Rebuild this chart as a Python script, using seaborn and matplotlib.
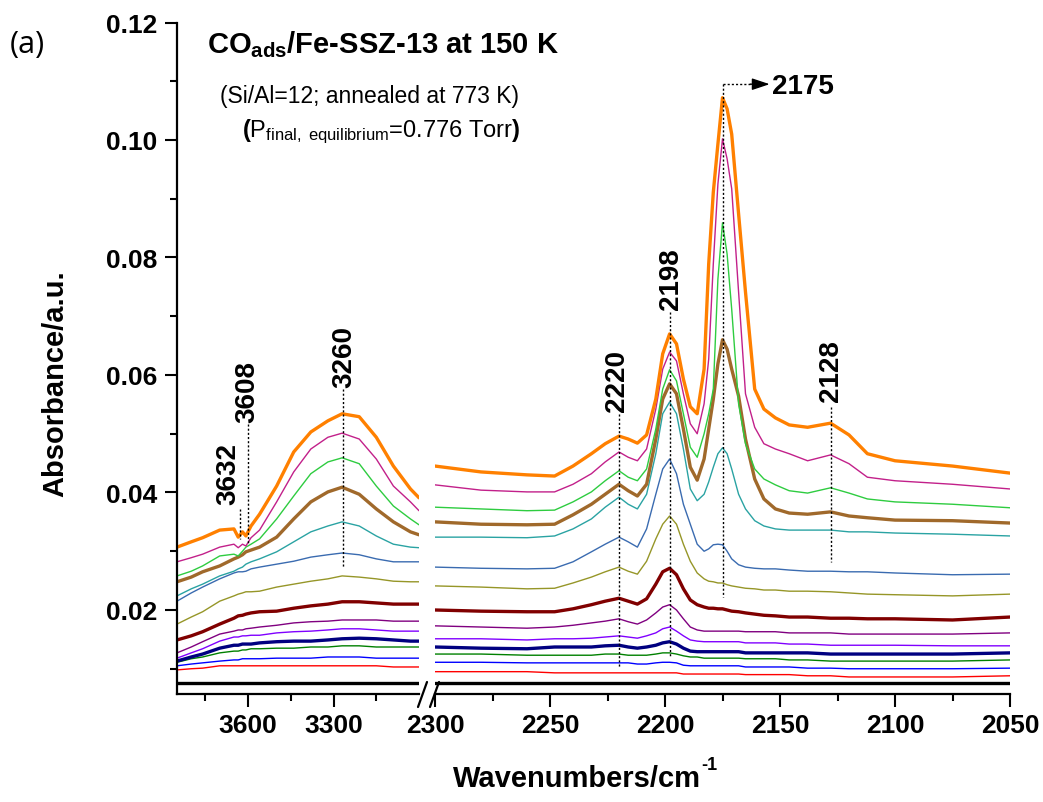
import pandas as pd
import matplotlib
matplotlib.use("Agg")
import matplotlib.pyplot as plt
from matplotlib.lines import Line2D
from matplotlib.ticker import MultipleLocator, FixedLocator, FormatStrFormatter
import seaborn as sns

# ============================================================
# Data: CO adsorption spectra on Fe-SSZ-13 at 150 K
# ============================================================
# wavenumber grids (cm-1) for the two halves of the broken axis
WN_HIGH = [3850, 3800, 3760, 3700, 3650, 3635, 3620, 3608, 3590, 3560,
           3500, 3440, 3380, 3320, 3270, 3210, 3150, 3090, 3030, 3000]
WN_LOW = [2300, 2280, 2260, 2248, 2240, 2232, 2226, 2220, 2216, 2212,
          2208, 2204, 2201, 2198, 2195, 2192, 2189, 2186, 2183, 2181,
          2179, 2177, 2175, 2173, 2171, 2168, 2165, 2161, 2157, 2152,
          2146, 2138, 2128, 2120, 2112, 2100, 2075, 2050]

# OH region (3850-3000 cm-1), one list per dose
HIGH_BLACK = [0.0076] * 20
HIGH_RED = [0.0098, 0.0100, 0.0101, 0.0105, 0.0105, 0.0105, 0.0105, 0.0105, 0.0105, 0.0105,
            0.0105, 0.0105, 0.0105, 0.0105, 0.0105, 0.0105, 0.0105, 0.0103, 0.0103, 0.0103]
HIGH_BLUE = [0.0105, 0.0108, 0.0110, 0.0113, 0.0115, 0.0115, 0.0117, 0.0117, 0.0117, 0.0117,
             0.0118, 0.0118, 0.0118, 0.0120, 0.0120, 0.0120, 0.0118, 0.0118, 0.0118, 0.0118]
HIGH_GREEN = [0.0111, 0.0117, 0.0120, 0.0127, 0.0130, 0.0130, 0.0132, 0.0132, 0.0134, 0.0134,
              0.0135, 0.0135, 0.0137, 0.0137, 0.0139, 0.0139, 0.0137, 0.0137, 0.0137, 0.0137]
HIGH_NAVY = [0.0113, 0.0120, 0.0125, 0.0135, 0.0140, 0.0140, 0.0142, 0.0142, 0.0142, 0.0144,
             0.0146, 0.0147, 0.0147, 0.0149, 0.0151, 0.0152, 0.0151, 0.0149, 0.0147, 0.0147]
HIGH_VIOLET = [0.0118, 0.0127, 0.0134, 0.0147, 0.0154, 0.0154, 0.0156, 0.0156, 0.0157, 0.0157,
               0.0161, 0.0163, 0.0164, 0.0166, 0.0168, 0.0168, 0.0166, 0.0164, 0.0164, 0.0164]
HIGH_PURPLE = [0.0127, 0.0137, 0.0146, 0.0159, 0.0164, 0.0166, 0.0166, 0.0168, 0.0169, 0.0171,
               0.0174, 0.0178, 0.0180, 0.0181, 0.0183, 0.0183, 0.0183, 0.0181, 0.0181, 0.0181]
HIGH_WINE = [0.0149, 0.0156, 0.0163, 0.0176, 0.0186, 0.0190, 0.0191, 0.0193, 0.0195, 0.0197,
             0.0198, 0.0203, 0.0207, 0.0210, 0.0214, 0.0214, 0.0212, 0.0210, 0.0210, 0.0210]
HIGH_OLIVE = [0.0176, 0.0188, 0.0197, 0.0215, 0.0224, 0.0227, 0.0229, 0.0231, 0.0231, 0.0232,
              0.0239, 0.0244, 0.0249, 0.0253, 0.0258, 0.0256, 0.0253, 0.0249, 0.0248, 0.0248]
HIGH_ROYAL = [0.0215, 0.0229, 0.0239, 0.0253, 0.0263, 0.0265, 0.0265, 0.0266, 0.0270, 0.0273,
              0.0278, 0.0283, 0.0290, 0.0294, 0.0297, 0.0294, 0.0287, 0.0282, 0.0282, 0.0282]
HIGH_CYAN = [0.0224, 0.0236, 0.0244, 0.0258, 0.0266, 0.0270, 0.0273, 0.0278, 0.0282, 0.0287,
             0.0299, 0.0316, 0.0333, 0.0343, 0.0350, 0.0343, 0.0326, 0.0312, 0.0307, 0.0306]
HIGH_BROWN = [0.0248, 0.0256, 0.0265, 0.0275, 0.0287, 0.0290, 0.0294, 0.0299, 0.0302, 0.0307,
              0.0324, 0.0355, 0.0384, 0.0401, 0.0409, 0.0397, 0.0372, 0.0350, 0.0333, 0.0328]
HIGH_LIME = [0.0258, 0.0266, 0.0275, 0.0292, 0.0295, 0.0292, 0.0300, 0.0307, 0.0312, 0.0321,
             0.0355, 0.0394, 0.0432, 0.0452, 0.0459, 0.0449, 0.0411, 0.0377, 0.0355, 0.0345]
HIGH_MAGENTA = [0.0282, 0.0289, 0.0295, 0.0307, 0.0312, 0.0306, 0.0312, 0.0309, 0.0323, 0.0336,
                0.0384, 0.0435, 0.0474, 0.0494, 0.0501, 0.0491, 0.0457, 0.0411, 0.0384, 0.0369]
HIGH_ORANGE = [0.0307, 0.0316, 0.0323, 0.0336, 0.0338, 0.0324, 0.0333, 0.0326, 0.0343, 0.0363,
               0.0411, 0.0469, 0.0503, 0.0522, 0.0534, 0.0529, 0.0494, 0.0445, 0.0406, 0.0391]

# CO stretching region (2300-2050 cm-1)
LOW_BLACK = [0.0076] * 38
LOW_RED = [0.0095, 0.0095, 0.0095, 0.0093, 0.0093, 0.0093, 0.0093, 0.0093, 0.0093, 0.0093,
           0.0093, 0.0093, 0.0093, 0.0093, 0.0093, 0.0091, 0.0091, 0.0091, 0.0091, 0.0091,
           0.0091, 0.0091, 0.0091, 0.0091, 0.0091, 0.0091, 0.0090, 0.0090, 0.0090, 0.0090,
           0.0090, 0.0088, 0.0088, 0.0086, 0.0086, 0.0086, 0.0086, 0.0088]
LOW_BLUE = [0.0111, 0.0111, 0.0110, 0.0110, 0.0110, 0.0110, 0.0110, 0.0110, 0.0110, 0.0108,
            0.0108, 0.0110, 0.0111, 0.0111, 0.0110, 0.0106, 0.0105, 0.0105, 0.0105, 0.0105,
            0.0105, 0.0105, 0.0105, 0.0105, 0.0105, 0.0105, 0.0103, 0.0103, 0.0103, 0.0103,
            0.0103, 0.0101, 0.0101, 0.0100, 0.0100, 0.0100, 0.0100, 0.0101]
LOW_GREEN = [0.0125, 0.0125, 0.0123, 0.0123, 0.0123, 0.0123, 0.0125, 0.0125, 0.0123, 0.0123,
             0.0123, 0.0125, 0.0127, 0.0127, 0.0125, 0.0122, 0.0120, 0.0120, 0.0118, 0.0118,
             0.0118, 0.0118, 0.0118, 0.0118, 0.0118, 0.0118, 0.0117, 0.0117, 0.0117, 0.0117,
             0.0115, 0.0115, 0.0113, 0.0113, 0.0113, 0.0113, 0.0113, 0.0115]
LOW_NAVY = [0.0137, 0.0135, 0.0134, 0.0137, 0.0137, 0.0137, 0.0139, 0.0140, 0.0137, 0.0135,
            0.0137, 0.0140, 0.0144, 0.0146, 0.0142, 0.0135, 0.0130, 0.0129, 0.0129, 0.0129,
            0.0129, 0.0129, 0.0129, 0.0129, 0.0129, 0.0129, 0.0127, 0.0127, 0.0127, 0.0127,
            0.0127, 0.0127, 0.0125, 0.0125, 0.0125, 0.0125, 0.0125, 0.0127]
LOW_VIOLET = [0.0151, 0.0151, 0.0149, 0.0151, 0.0151, 0.0152, 0.0154, 0.0156, 0.0154, 0.0152,
              0.0156, 0.0161, 0.0168, 0.0171, 0.0164, 0.0156, 0.0149, 0.0147, 0.0146, 0.0146,
              0.0146, 0.0146, 0.0146, 0.0146, 0.0146, 0.0146, 0.0144, 0.0144, 0.0144, 0.0144,
              0.0142, 0.0142, 0.0140, 0.0140, 0.0140, 0.0140, 0.0139, 0.0139]
LOW_PURPLE = [0.0173, 0.0171, 0.0169, 0.0171, 0.0174, 0.0178, 0.0181, 0.0185, 0.0180, 0.0176,
              0.0183, 0.0195, 0.0205, 0.0209, 0.0200, 0.0185, 0.0171, 0.0166, 0.0164, 0.0164,
              0.0164, 0.0164, 0.0164, 0.0164, 0.0164, 0.0164, 0.0163, 0.0163, 0.0163, 0.0163,
              0.0161, 0.0161, 0.0161, 0.0159, 0.0159, 0.0159, 0.0159, 0.0161]
LOW_WINE = [0.0200, 0.0198, 0.0197, 0.0197, 0.0202, 0.0209, 0.0215, 0.0220, 0.0215, 0.0210,
            0.0219, 0.0244, 0.0265, 0.0271, 0.0260, 0.0236, 0.0217, 0.0209, 0.0205, 0.0203,
            0.0203, 0.0202, 0.0202, 0.0200, 0.0198, 0.0197, 0.0195, 0.0193, 0.0191, 0.0190,
            0.0188, 0.0188, 0.0186, 0.0186, 0.0185, 0.0185, 0.0183, 0.0188]
LOW_OLIVE = [0.0241, 0.0239, 0.0236, 0.0237, 0.0246, 0.0256, 0.0265, 0.0273, 0.0266, 0.0261,
             0.0283, 0.0321, 0.0346, 0.0360, 0.0346, 0.0312, 0.0283, 0.0263, 0.0253, 0.0249,
             0.0248, 0.0246, 0.0246, 0.0243, 0.0241, 0.0239, 0.0237, 0.0236, 0.0234, 0.0234,
             0.0232, 0.0232, 0.0231, 0.0229, 0.0227, 0.0226, 0.0224, 0.0227]
LOW_ROYAL = [0.0273, 0.0271, 0.0270, 0.0271, 0.0282, 0.0299, 0.0312, 0.0324, 0.0316, 0.0307,
             0.0338, 0.0397, 0.0440, 0.0457, 0.0432, 0.0380, 0.0346, 0.0312, 0.0300, 0.0304,
             0.0311, 0.0312, 0.0311, 0.0300, 0.0287, 0.0277, 0.0273, 0.0271, 0.0270, 0.0270,
             0.0268, 0.0266, 0.0266, 0.0265, 0.0265, 0.0263, 0.0260, 0.0261]
LOW_CYAN = [0.0324, 0.0324, 0.0323, 0.0326, 0.0338, 0.0355, 0.0375, 0.0392, 0.0380, 0.0372,
            0.0397, 0.0466, 0.0534, 0.0554, 0.0534, 0.0474, 0.0406, 0.0386, 0.0397, 0.0418,
            0.0443, 0.0466, 0.0476, 0.0466, 0.0440, 0.0397, 0.0372, 0.0352, 0.0343, 0.0338,
            0.0336, 0.0336, 0.0336, 0.0333, 0.0333, 0.0331, 0.0329, 0.0326]
LOW_BROWN = [0.0350, 0.0346, 0.0345, 0.0346, 0.0362, 0.0380, 0.0397, 0.0414, 0.0403, 0.0394,
             0.0414, 0.0491, 0.0559, 0.0585, 0.0568, 0.0508, 0.0443, 0.0421, 0.0457, 0.0508,
             0.0559, 0.0619, 0.0660, 0.0644, 0.0610, 0.0564, 0.0491, 0.0423, 0.0389, 0.0372,
             0.0365, 0.0363, 0.0367, 0.0360, 0.0357, 0.0353, 0.0352, 0.0348]
LOW_LIME = [0.0375, 0.0372, 0.0369, 0.0370, 0.0384, 0.0401, 0.0420, 0.0437, 0.0426, 0.0420,
            0.0440, 0.0508, 0.0576, 0.0609, 0.0590, 0.0534, 0.0477, 0.0460, 0.0500, 0.0534,
            0.0576, 0.0763, 0.0859, 0.0806, 0.0712, 0.0551, 0.0483, 0.0440, 0.0423, 0.0413,
            0.0403, 0.0399, 0.0408, 0.0399, 0.0389, 0.0384, 0.0380, 0.0374]
LOW_MAGENTA = [0.0413, 0.0404, 0.0401, 0.0401, 0.0414, 0.0432, 0.0452, 0.0469, 0.0460, 0.0454,
               0.0474, 0.0542, 0.0610, 0.0639, 0.0624, 0.0568, 0.0517, 0.0500, 0.0551, 0.0627,
               0.0789, 0.0925, 0.1002, 0.0968, 0.0917, 0.0741, 0.0568, 0.0511, 0.0483, 0.0474,
               0.0466, 0.0454, 0.0464, 0.0449, 0.0426, 0.0420, 0.0414, 0.0406]
LOW_ORANGE = [0.0445, 0.0435, 0.0430, 0.0428, 0.0445, 0.0466, 0.0483, 0.0496, 0.0491, 0.0484,
              0.0498, 0.0559, 0.0636, 0.0670, 0.0653, 0.0593, 0.0546, 0.0534, 0.0610, 0.0789,
              0.0911, 0.0993, 0.1072, 0.1053, 0.1010, 0.0874, 0.0741, 0.0576, 0.0542, 0.0527,
              0.0515, 0.0511, 0.0518, 0.0498, 0.0466, 0.0454, 0.0445, 0.0433]

SERIES = ["black", "red", "blue", "green", "navy", "violet", "purple", "wine",
          "olive", "royal", "cyan", "brown", "lime", "magenta", "orange"]
HIGH = [HIGH_BLACK, HIGH_RED, HIGH_BLUE, HIGH_GREEN, HIGH_NAVY, HIGH_VIOLET, HIGH_PURPLE,
        HIGH_WINE, HIGH_OLIVE, HIGH_ROYAL, HIGH_CYAN, HIGH_BROWN, HIGH_LIME, HIGH_MAGENTA,
        HIGH_ORANGE]
LOW = [LOW_BLACK, LOW_RED, LOW_BLUE, LOW_GREEN, LOW_NAVY, LOW_VIOLET, LOW_PURPLE,
       LOW_WINE, LOW_OLIVE, LOW_ROYAL, LOW_CYAN, LOW_BROWN, LOW_LIME, LOW_MAGENTA,
       LOW_ORANGE]

COLORS = {
    "black": "#000000", "red": "#FF0000", "blue": "#0000FF", "green": "#008000",
    "navy": "#000080", "violet": "#8000FF", "purple": "#800080", "wine": "#800000",
    "olive": "#969628", "royal": "#3A6BB0", "cyan": "#2AA3A3", "brown": "#A0692B",
    "lime": "#2ECC40", "magenta": "#C2208A", "orange": "#FF8000",
}
THICK = {"black", "navy", "wine", "brown", "orange"}

# long-form tables
df_high = pd.concat([pd.DataFrame({"wn": WN_HIGH, "absorbance": v, "series": s})
                     for s, v in zip(SERIES, HIGH)], ignore_index=True)
df_low = pd.concat([pd.DataFrame({"wn": WN_LOW, "absorbance": v, "series": s})
                    for s, v in zip(SERIES, LOW)], ignore_index=True)

# ============================================================
# Style
# ============================================================
sns.set_theme(style="ticks")
plt.rcParams["font.family"] = ["Liberation Sans", "DejaVu Sans"]
plt.rcParams["text.color"] = "black"
plt.rcParams["axes.labelcolor"] = "black"
plt.rcParams["xtick.color"] = "black"
plt.rcParams["ytick.color"] = "black"
plt.rcParams["axes.edgecolor"] = "black"
plt.rcParams["mathtext.fontset"] = "custom"
plt.rcParams["mathtext.rm"] = "Liberation Sans"
plt.rcParams["mathtext.bf"] = "Liberation Sans:bold"
plt.rcParams["mathtext.it"] = "Liberation Sans:italic"

W, H = 1043, 803
fig = plt.figure(figsize=(W / 100, H / 100), dpi=100)
bottom = (H - 695) / H
height = (695 - 23.5) / H
ax1 = fig.add_axes([177 / W, bottom, (419 - 177) / W, height])
ax2 = fig.add_axes([435 / W, bottom, (1010 - 435) / W, height])

for ax, df in ((ax1, df_high), (ax2, df_low)):
    for s in SERIES:
        sub = df[df["series"] == s]
        sns.lineplot(data=sub, x="wn", y="absorbance", ax=ax, color=COLORS[s],
                     lw=2.4 if s in THICK else 1.0, sort=False, estimator=None,
                     legend=False)
    ax.set_ylim(0.0057, 0.12)
    ax.set_xlabel("")
    ax.set_ylabel("")
    for side in ("top", "right"):
        ax.spines[side].set_visible(False)
    for side in ("left", "bottom"):
        ax.spines[side].set_linewidth(1.6)
    ax.tick_params(which="major", direction="out", length=9, width=1.5,
                   labelsize=19, colors="black", pad=5)
    ax.tick_params(which="minor", direction="out", length=5, width=1.5)

ax1.set_xlim(3850, 3000)
ax1.xaxis.set_major_locator(FixedLocator([3600, 3300]))
ax1.xaxis.set_minor_locator(FixedLocator([3750, 3450, 3150]))
ax1.yaxis.set_major_locator(MultipleLocator(0.02))
ax1.yaxis.set_minor_locator(MultipleLocator(0.01))
ax1.yaxis.set_major_formatter(FormatStrFormatter("%.2f"))

ax2.set_xlim(2300, 2050)
ax2.xaxis.set_major_locator(MultipleLocator(50))
ax2.xaxis.set_minor_locator(MultipleLocator(25))
ax2.spines["left"].set_visible(False)
ax2.tick_params(axis="y", which="both", left=False, labelleft=False)

for ax in (ax1, ax2):
    for lab in ax.get_xticklabels() + ax.get_yticklabels():
        lab.set_fontweight("bold")

# axis break marks
for x0 in (418, 430):
    fig.add_artist(Line2D([x0 / W, (x0 + 9) / W], [1 - 708 / H, 1 - 683 / H],
                          color="black", lw=1.6))

# ============================================================
# Peak annotations
# ============================================================
dot = dict(color="black", lw=1.0, ls=(0, (1.5, 1.5)))
ann = dict(rotation=90, ha="center", va="bottom", fontsize=20, fontweight="bold")

ax1.plot([3629, 3629], [0.0372, 0.0321], **dot)
ax1.text(3671, 0.0380, "3632", **ann)
ax1.plot([3601, 3601], [0.0517, 0.0312], **dot)
ax1.text(3604, 0.0520, "3608", **ann)
ax1.plot([3268, 3268], [0.0576, 0.0273], **dot)
ax1.text(3262, 0.0580, "3260", **ann)

ax2.plot([2220, 2220], [0.0534, 0.0103], **dot)
ax2.text(2221, 0.0539, "2220", **ann)
ax2.plot([2198, 2198], [0.0707, 0.0122], **dot)
ax2.text(2197.5, 0.0712, "2198", **ann)
ax2.plot([2128, 2128], [0.0546, 0.0282], **dot)
ax2.text(2128, 0.0556, "2128", **ann)

# 2175 band: dotted guide with arrow to the label
ax2.plot([2175, 2175], [0.1095, 0.0222], **dot)
ax2.plot([2175, 2163], [0.1095, 0.1095], **dot)
ax2.annotate("", xy=(2154.5, 0.1095), xytext=(2163, 0.1095),
             arrowprops=dict(arrowstyle="-|>,head_length=0.9,head_width=0.3",
                             color="black", lw=1.0, shrinkA=0, shrinkB=0))
ax2.text(2153.5, 0.1092, "2175", ha="left", va="center", fontsize=20,
         fontweight="bold")

# ============================================================
# Titles and axis labels
# ============================================================
fig.text(10 / W, 1 - 45 / H, "(a)", fontsize=22, fontweight="normal",
         family=["Open Sans", "DejaVu Sans"], ha="left", va="center")
fig.text(207 / W, 1 - 53 / H, r"CO$_{\mathbf{ads}}$/Fe-SSZ-13 at 150 K",
         fontsize=21, fontweight="bold", ha="left", va="baseline")
fig.text(220 / W, 1 - 103 / H, "(Si/Al=12; annealed at 773 K)",
         fontsize=16.5, fontweight="normal", ha="left", va="baseline")
fig.text(242 / W, 1 - 137 / H,
         r"$\mathbf{(}\mathrm{P}_{\mathrm{final,\ equilibrium}}$=0.776 Torr$\mathbf{)}$",
         fontsize=17, fontweight="normal", ha="left", va="baseline")

fig.text(55 / W, 1 - 384 / H, "Absorbance/a.u.", rotation=90, fontsize=21,
         fontweight="bold", ha="center", va="center")
fig.text(453 / W, 1 - 787 / H, "Wavenumbers/cm", fontsize=21,
         fontweight="bold", ha="left", va="baseline")
fig.text(701 / W, 1 - 770 / H, "-1", fontsize=13,
         fontweight="bold", ha="left", va="baseline")

fig.savefig("out.png", dpi=100, facecolor="white")
